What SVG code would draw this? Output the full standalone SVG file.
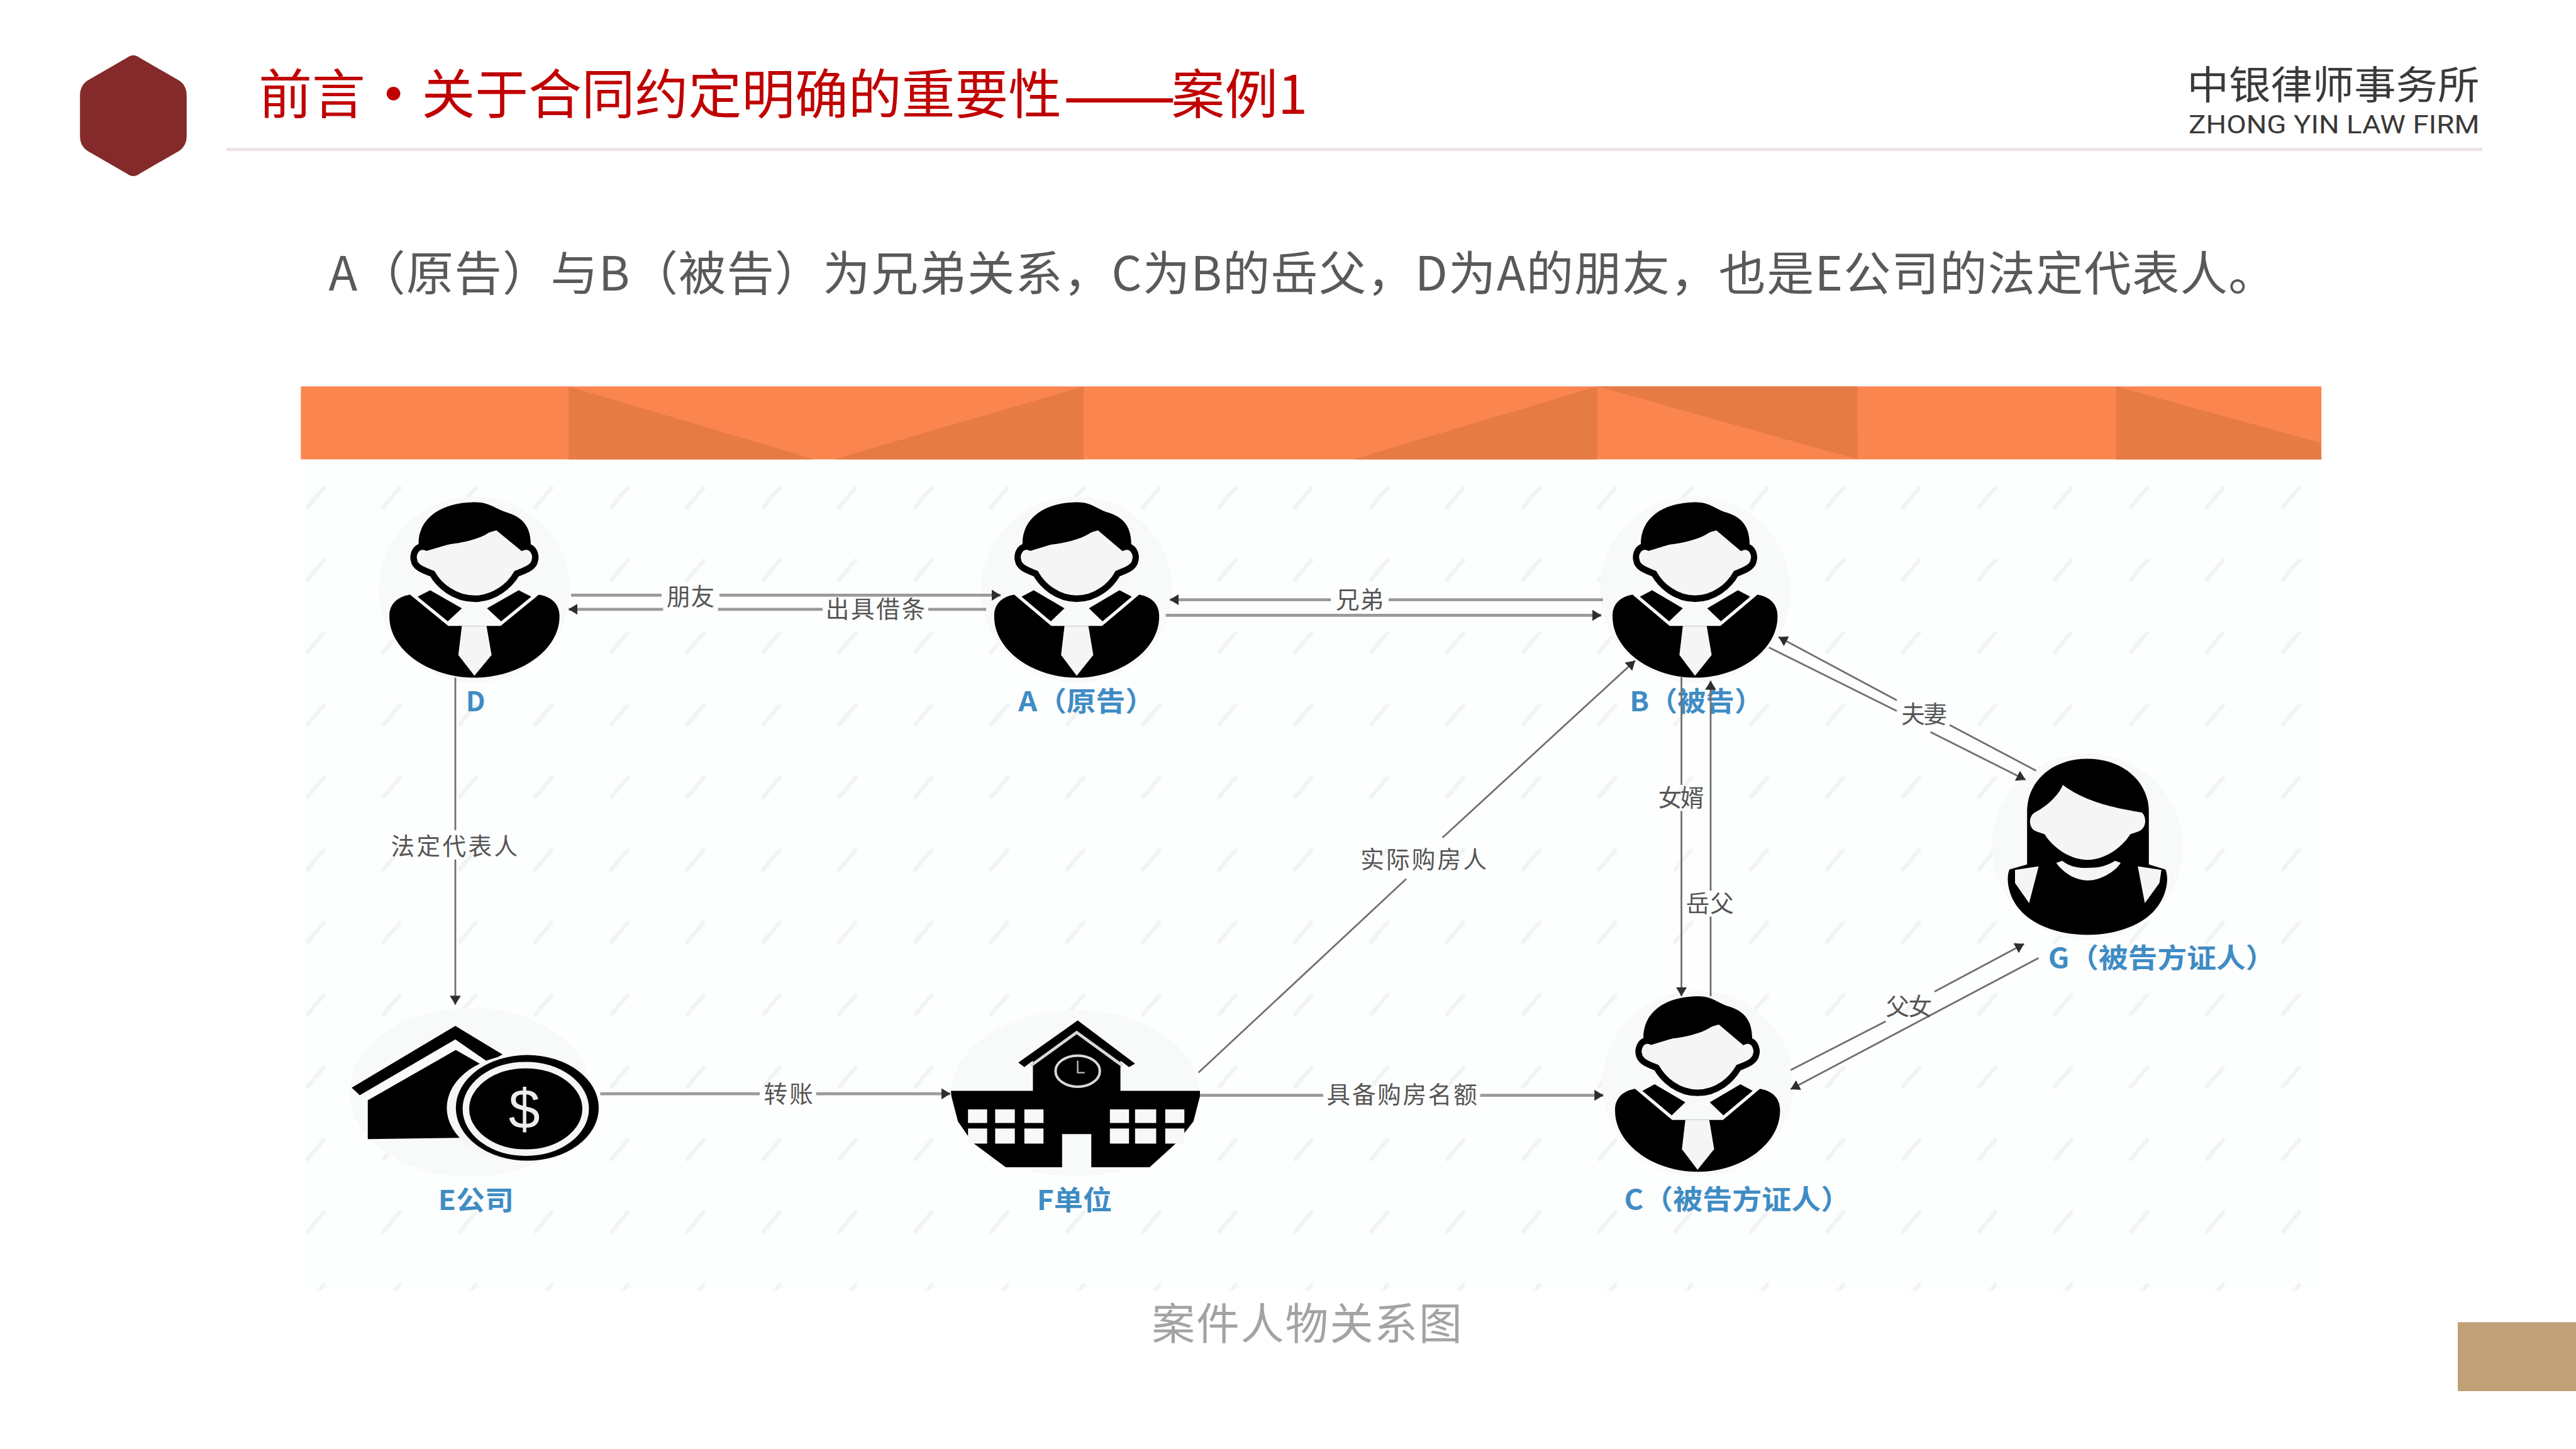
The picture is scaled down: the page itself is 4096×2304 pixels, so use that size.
<svg xmlns="http://www.w3.org/2000/svg" width="4096" height="2304" viewBox="0 0 4096 2304">
<style>
text{font-family:"Noto Sans CJK SC","Noto Sans",sans-serif}
.lbl{font-size:54px;font-weight:700;fill:#3F8CC4}
.cl{font-size:47px;fill:#555}
.hv{fill:none;stroke:#9a9a9a;stroke-width:6;marker-end:url(#ah)}
.thin{fill:none;stroke:#707070;stroke-width:3.5;marker-end:url(#ah)}
.k{fill:#000}
.w{fill:#F5F5F5}
.bd{fill:#F8F9F9}
</style>
<defs>
<pattern id="ticks" patternUnits="userSpaceOnUse" x="551.5" y="918" width="151" height="144">
<path d="M60,90 Q76,70 92,52" fill="none" stroke="#F2F4F4" stroke-width="8" stroke-linecap="round"/>
</pattern>
<marker id="ah" markerUnits="userSpaceOnUse" viewBox="0 0 18 22" refX="18" refY="11" markerWidth="18" markerHeight="22" orient="auto">
<path d="M0,0 L18,11 L0,22 Z" fill="#2e2e2e"/>
</marker>
<g id="man">
<path class="k" d="M-128,10 C-152,14 -170,28 -169,54 C-169,120 -90,175 0,175 C90,175 169,120 169,54 C170,28 152,14 128,10 L52,72 L-52,72 Z"/>
<path class="k" d="M-88,1 L-25,37 L-53,63 L-113,14 Z M88,1 L25,37 L53,63 L113,14 Z"/>
<path class="w" d="M-25,72 L24,72 L34,130 L0,171 L-32,130 Z"/>
<path class="w" stroke="#000" stroke-width="13" d="M-95,-84 C-115,-92 -124,-70 -120,-58 C-118,-44 -100,-38 -84,-32 C-70,-8 -40,18 0,18 C40,18 70,-8 84,-32 C100,-38 118,-44 120,-58 C124,-70 115,-92 95,-84 L45,-125 Z"/>
<path class="k" d="M-111,-88 C-113,-142 -67,-173 0,-174 C31,-174 41,-160 66,-153 C101,-142 112,-120 112,-88 L101,-88 C80,-98 59,-111 45,-129 C25,-100 -30,-88 -109,-86 Z"/>
</g>
</defs>
<rect width="4096" height="2304" fill="#fff"/>
<g transform="scale(0.8)">
<g id="header">
<path d="M252,115 Q265,105 278,115 L356,160 Q371,170 371,190 L371,272 Q371,290 356,300 L278,345 Q265,355 252,345 L174,300 Q159,290 159,272 L159,190 Q159,170 174,160 Z" fill="#842A2A"/>
<text x="514" y="226" font-size="106" fill="#C00000">前言<tspan x="729" font-weight="700">·</tspan><tspan x="838">关于合同约定明确的重要性</tspan><tspan x="2113" dy="11" font-size="134">——</tspan><tspan x="2328" dy="-11">案例1</tspan></text>
<rect x="450" y="294" width="4484" height="6" fill="#EFE1E4"/>
<text x="4347" y="198" font-size="78" fill="#3a3a3a" textLength="581" lengthAdjust="spacingAndGlyphs">中银律师事务所</text>
<text x="4350" y="265" font-size="50" fill="#3a3a3a" textLength="578" lengthAdjust="spacingAndGlyphs" style="font-family:Roboto,'Liberation Sans',sans-serif">ZHONG YIN LAW FIRM</text>
</g>
<text id="intro" x="653" y="578" font-size="94" fill="#595959" textLength="3870">A（原告）与B（被告）为兄弟关系，C为B的岳父，D为A的朋友，也是E公司的法定代表人。</text>
<g id="panel">
<rect x="598" y="913" width="4016" height="1653" fill="#FDFEFE"/>
<rect x="598" y="913" width="4016" height="1653" fill="url(#ticks)"/>
<rect x="598" y="768" width="4016" height="145" fill="#FB854F"/>
<g fill="#E67B45">
<path d="M1130,768 L1619,913 L1130,913 Z"/>
<path d="M2154,768 L2154,913 L1657,913 Z"/>
<path d="M3175,768 L3175,913 L2689,913 Z"/>
<path d="M3175,768 L3692,768 L3692,913 Z"/>
<path d="M4206,768 L4612,880 L4614,913 L4206,913 Z"/>
</g>
</g>
<g id="node-D"><ellipse class="bd" cx="943" cy="1172" rx="190" ry="185"/><use href="#man" transform="translate(943,1172)"/><text class="lbl" x="926" y="1414">D</text></g>
<g id="node-A"><ellipse class="bd" cx="2140" cy="1172" rx="190" ry="185"/><use href="#man" transform="translate(2140,1172) scale(.97,1)"/><text class="lbl" x="2024" y="1414" textLength="271" lengthAdjust="spacingAndGlyphs">A（原告）</text></g>
<g id="node-B"><ellipse class="bd" cx="3369" cy="1172" rx="190" ry="185"/><use href="#man" transform="translate(3369,1172) scale(.97,1)"/><text class="lbl" x="3239" y="1414" textLength="265" lengthAdjust="spacingAndGlyphs">B（被告）</text></g>
<g id="node-C"><ellipse class="bd" cx="3374" cy="2154" rx="190" ry="185"/><use href="#man" transform="translate(3374,2154) scale(.97,1)"/><text class="lbl" x="3228" y="2404" textLength="450" lengthAdjust="spacingAndGlyphs">C（被告方证人）</text></g>
<g id="node-G"><ellipse class="bd" cx="4149" cy="1683" rx="190" ry="185"/>
<g transform="translate(4149,1683)">
<path class="k" d="M0,-175 C70,-175 122,-130 122,-70 L122,35 L155,45 C162,60 160,100 130,130 C100,160 50,175 0,175 C-50,175 -100,160 -130,130 C-160,100 -162,60 -155,45 L-120,35 L-120,-70 C-120,-130 -70,-175 0,-175 Z"/>
<path class="w" d="M-144,46 L-97,39 L-116,112 L-144,72 Z M100,39 L147,46 L143,72 L114,112 Z"/>
<path class="w" d="M-49,-123 C-58,-100 -85,-78 -105,-68 C-118,-60 -118,-35 -100,-30 L-85,-25 C-70,0 -35,26 0,26 C35,26 70,0 85,-25 L100,-30 C118,-35 118,-60 108,-68 C70,-75 0,-85 -49,-123 Z"/>
<path class="w" d="M-62,32 C-50,50 -25,67 0,67 C25,67 55,50 66,32 L55,28 C35,40 20,42 0,42 C-20,42 -35,40 -50,28 Z"/>
</g>
<text class="lbl" x="4071" y="1924" textLength="451" lengthAdjust="spacingAndGlyphs">G（被告方证人）</text></g>
<g id="node-E"><ellipse class="bd" cx="935" cy="2171" rx="240" ry="168"/>
<path class="k" d="M905,2039 L999,2096 L970,2111 L905,2066 L715,2177 L699,2162 Z"/>
<path class="k" d="M906,2087 L960,2118 L960,2261 L731,2264 L731,2187 Z"/>
<ellipse cx="1040" cy="2202" rx="152" ry="107" fill="#F5F5F5"/>
<ellipse class="k" cx="1048" cy="2202" rx="142" ry="105"/>
<ellipse cx="1045" cy="2204" rx="119" ry="87" fill="none" stroke="#F5F5F5" stroke-width="13"/>
<text x="1042" y="2243" font-size="112" fill="#EDEDED" text-anchor="middle" style="font-family:'Liberation Sans',sans-serif">$</text>
<text class="lbl" x="871" y="2405" textLength="150" lengthAdjust="spacingAndGlyphs">E公司</text></g>
<g id="node-F"><ellipse class="bd" cx="2138" cy="2173" rx="247" ry="165"/>
<path class="k" d="M2142,2028 L2256,2114 L2244,2121 L2227,2108 L2227,2168 L2385,2168 L2385,2179 L2372,2229 L2339,2271 L2285,2320 L2169,2320 L2169,2254 L2111,2254 L2111,2320 L1999,2320 L1933,2271 L1904,2229 L1891,2179 L1890,2168 L2053,2168 L2053,2108 L2036,2121 L2024,2112 Z"/>
<path d="M2049,2118 L2140,2052 L2231,2118" fill="none" stroke="#D9D9D9" stroke-width="6"/>
<ellipse cx="2142" cy="2129" rx="44" ry="31" fill="none" stroke="#D9D9D9" stroke-width="5"/>
<path d="M2142,2108 L2142,2132 L2156,2132" fill="none" stroke="#BDBDBD" stroke-width="3"/>
<g fill="#F8F8F8">
<rect x="1924" y="2205" width="38" height="27"/><rect x="1978" y="2205" width="39" height="27"/><rect x="2036" y="2205" width="38" height="27"/>
<rect x="2206" y="2205" width="38" height="27"/><rect x="2256" y="2205" width="42" height="27"/><rect x="2316" y="2205" width="38" height="27"/>
<rect x="1924" y="2243" width="38" height="30"/><rect x="1978" y="2243" width="39" height="30"/><rect x="2036" y="2243" width="38" height="30"/>
<rect x="2206" y="2243" width="38" height="30"/><rect x="2256" y="2243" width="42" height="30"/><rect x="2316" y="2243" width="38" height="30"/>
</g>
<text class="lbl" x="2061" y="2405" textLength="149" lengthAdjust="spacingAndGlyphs">F单位</text></g>
<g id="connectors">
<path class="hv" d="M1135,1183 L1315,1183 M1430,1183 L1989,1183"/>
<path class="hv" d="M1960,1211 L1845,1211 M1635,1211 L1427,1211 M1318,1211 L1130,1211"/>
<path class="hv" d="M3186,1192 L2760,1192 M2645,1192 L2325,1192"/>
<path class="hv" d="M2317,1223 L3183,1223"/>
<path class="thin" d="M905,1347 L905,1650 M905,1708 L905,1997"/>
<path class="hv" d="M1193,2174 L1510,2174 M1622,2174 L1889,2174"/>
<path class="hv" d="M2385,2177 L2630,2177 M2942,2177 L3187,2177"/>
<path class="thin" d="M2382,2132 L2795,1747 M2867,1665 L3250,1313"/>
<path class="thin" d="M4047,1532 L3875,1441 M3770,1392 L3535,1266"/>
<path class="thin" d="M3516,1287 L3770,1413 M3837,1455 L4026,1550"/>
<path class="thin" d="M3342,1346 L3342,1560 M3342,1612 L3342,1980"/>
<path class="thin" d="M3400,1980 L3400,1822 M3400,1770 L3400,1353"/>
<path class="thin" d="M3559,2127 L3748,2030 M3845,1971 L4023,1876"/>
<path class="thin" d="M4052,1904 L3559,2165"/>
<text class="cl" x="1325" y="1202" textLength="95">朋友</text>
<text class="cl" x="1641" y="1227" textLength="198">出具借条</text>
<text class="cl" x="2655" y="1209" textLength="95">兄弟</text>
<text class="cl" x="777" y="1699" textLength="252">法定代表人</text>
<text class="cl" x="1518" y="2191" textLength="98">转账</text>
<text class="cl" x="2637" y="2193" textLength="299">具备购房名额</text>
<text class="cl" x="2704" y="1725" textLength="251">实际购房人</text>
<text class="cl" x="3779" y="1436" textLength="91">夫妻</text>
<text class="cl" x="3296" y="1603" textLength="91">女婿</text>
<text class="cl" x="3351" y="1813" textLength="95">岳父</text>
<text class="cl" x="3748" y="2018" textLength="92">父女</text>
</g>
<text id="caption" x="2289" y="2662" font-size="86" fill="#A3A3A3" textLength="617">案件人物关系图</text>
<rect id="corner" x="4885" y="2628" width="235" height="137" fill="#BFA077"/>
</g>
</svg>
